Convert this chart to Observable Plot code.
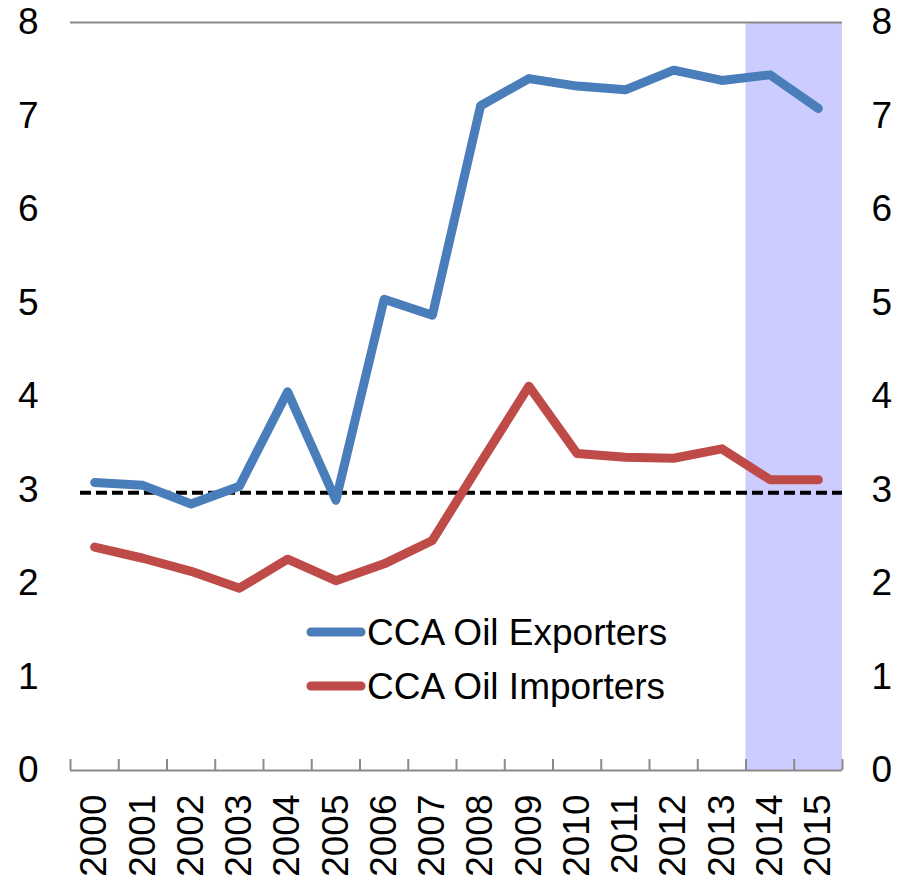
<!DOCTYPE html>
<html>
<head>
<meta charset="utf-8">
<script src="https://cdn.jsdelivr.net/npm/d3@7"></script>
<script src="https://cdn.jsdelivr.net/npm/@observablehq/plot@0.6"></script>
<style>
  html, body { margin: 0; padding: 0; background: #fff; }
  #wrap { position: relative; width: 912px; height: 878px; font-family: "Liberation Sans", Arial, sans-serif; }
  #legend { position: absolute; left: 0; top: 0; pointer-events: none; }
</style>
</head>
<body>
<div id="wrap"></div>
<script>
const years = [2000, 2001, 2002, 2003, 2004, 2005, 2006, 2007, 2008, 2009, 2010, 2011, 2012, 2013, 2014, 2015];
const exporters = [3.08, 3.05, 2.85, 3.04, 4.05, 2.89, 5.04, 4.87, 7.11, 7.40, 7.32, 7.28, 7.49, 7.38, 7.44, 7.08];
const importers = [2.39, 2.27, 2.13, 1.95, 2.26, 2.03, 2.21, 2.46, 3.29, 4.11, 3.39, 3.35, 3.34, 3.44, 3.11, 3.11];
const seriesNames = ["CCA Oil Exporters", "CCA Oil Importers"];
const seriesColors = ["#4A7EBB", "#BE4B48"];
const yTicks = [0, 1, 2, 3, 4, 5, 6, 7, 8];
const threshold = 2.97;
const projectionYears = [2014, 2015];

const rows = [];
years.forEach((yr, i) => {
  rows.push({year: yr, value: exporters[i], series: seriesNames[0]});
  rows.push({year: yr, value: importers[i], series: seriesNames[1]});
});
const boundaries = years.map(y => y - 0.5).concat([years[years.length - 1] + 0.5]);
const gray = "#8a8a8a";
const fs = 37;

const chart = Plot.plot({
  width: 912,
  height: 878,
  marginLeft: 70,
  marginRight: 70,
  marginTop: 22,
  marginBottom: 108,
  style: {fontFamily: '"Liberation Sans", Arial, sans-serif', background: "#fff", color: "#000"},
  x: {type: "linear", domain: [years[0] - 0.5, years[years.length - 1] + 0.5]},
  y: {domain: [0, 8]},
  color: {domain: seriesNames, range: seriesColors},
  marks: [
    Plot.rectY([{x1: projectionYears[0] - 0.5, x2: projectionYears[1] + 0.5}], {x1: "x1", x2: "x2", y1: 0, y2: 8, fill: "#CCCCFF"}),
    Plot.ruleY([8], {stroke: gray, strokeWidth: 2}),
    Plot.ruleY([threshold], {stroke: "#000", strokeWidth: 4, strokeDasharray: "11,5", insetLeft: 10}),
    Plot.line(rows, {x: "year", y: "value", z: "series", stroke: "series", strokeWidth: 9, strokeLinecap: "round", strokeLinejoin: "round"}),
    Plot.ruleY([0], {stroke: gray, strokeWidth: 2}),
    Plot.ruleX(boundaries, {x: d => d, y1: 0, y2: 0, insetTop: -11, stroke: gray, strokeWidth: 2}),
    Plot.axisX({ticks: years, tickSize: 0, tickPadding: 24, tickRotate: -90, fontSize: fs, tickFormat: d => String(d), label: null}),
    Plot.axisY({anchor: "left", ticks: yTicks, tickSize: 0, tickPadding: 32, fontSize: fs, label: null}),
    Plot.axisY({anchor: "right", ticks: yTicks, tickSize: 0, tickPadding: 29, fontSize: fs, label: null})
  ]
});
const wrap = document.getElementById("wrap");
wrap.appendChild(chart);

// Legend overlay
const ns = "http://www.w3.org/2000/svg";
const leg = document.createElementNS(ns, "svg");
leg.setAttribute("id", "legend");
leg.setAttribute("width", 912);
leg.setAttribute("height", 878);
const legY = [632, 686];
seriesNames.forEach((name, i) => {
  const ln = document.createElementNS(ns, "line");
  ln.setAttribute("x1", 311); ln.setAttribute("x2", 361);
  ln.setAttribute("y1", legY[i]); ln.setAttribute("y2", legY[i]);
  ln.setAttribute("stroke", seriesColors[i]);
  ln.setAttribute("stroke-width", 9);
  ln.setAttribute("stroke-linecap", "round");
  leg.appendChild(ln);
  const t = document.createElementNS(ns, "text");
  t.setAttribute("x", 367);
  t.setAttribute("y", legY[i] + 13);
  t.setAttribute("font-size", fs);
  t.setAttribute("font-family", '"Liberation Sans", Arial, sans-serif');
  t.setAttribute("fill", "#000");
  t.textContent = name;
  leg.appendChild(t);
});
wrap.appendChild(leg);
</script>
</body>
</html>
